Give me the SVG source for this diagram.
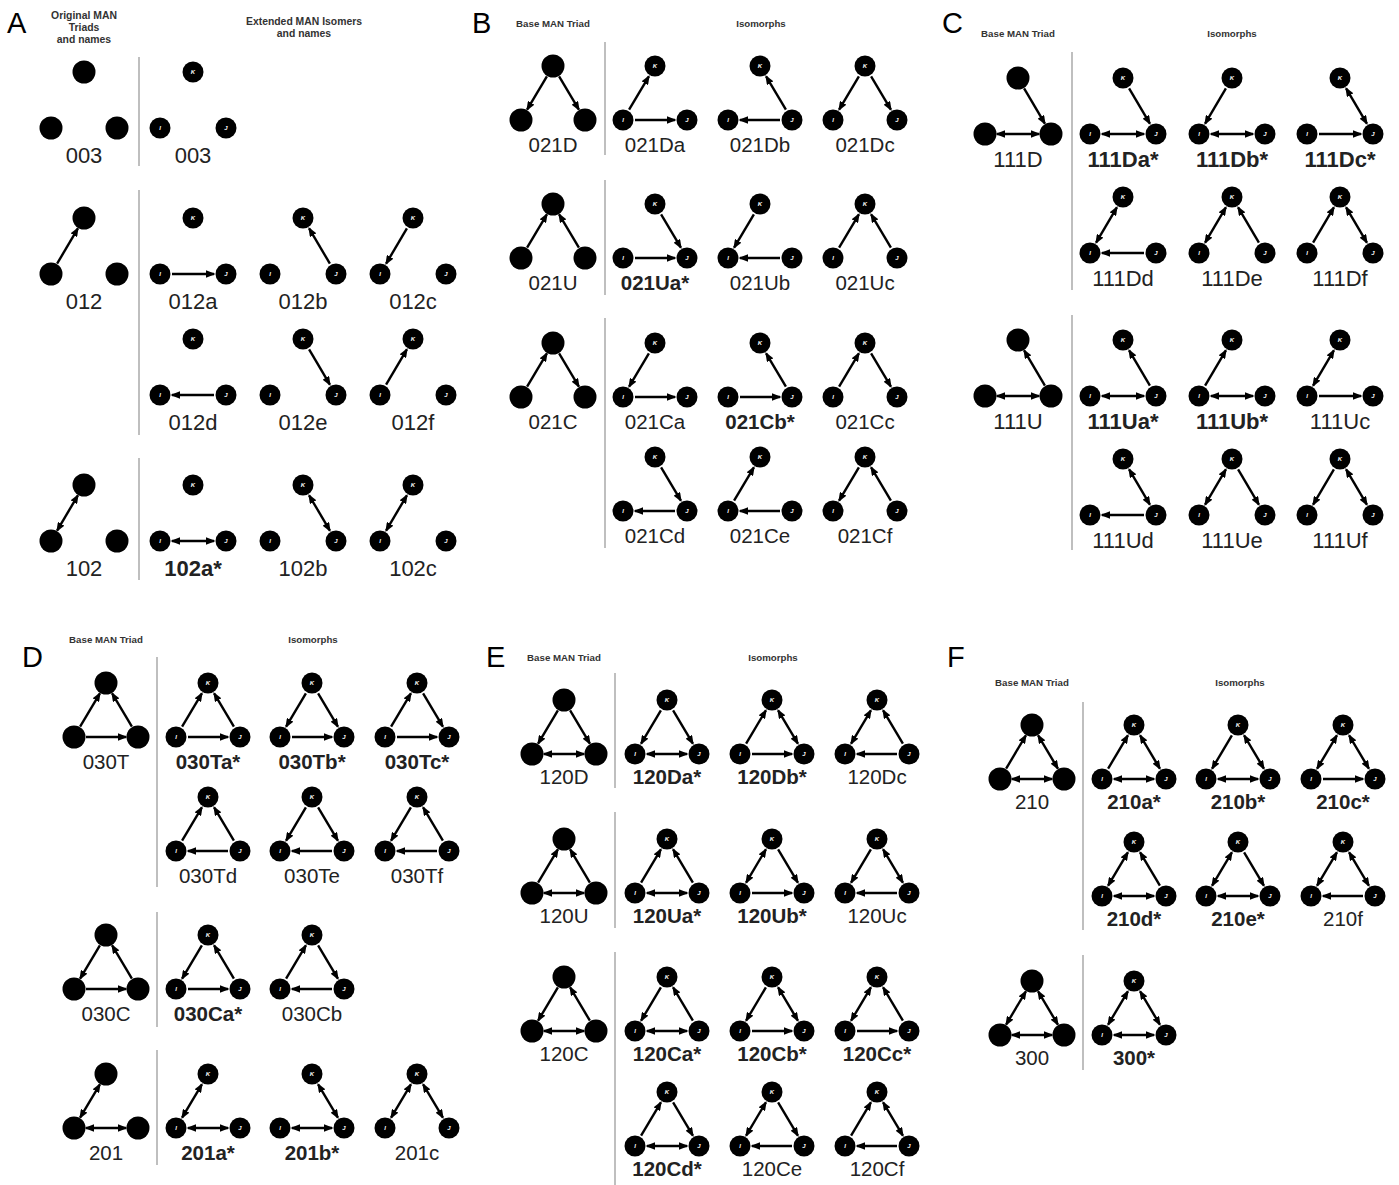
<svg xmlns="http://www.w3.org/2000/svg" xmlns:xlink="http://www.w3.org/1999/xlink" width="1399" height="1185" viewBox="0 0 1399 1185">
<style>
.ln{stroke:#000;stroke-width:2.4;fill:none}
.f{marker-end:url(#ah)}
.b{marker-start:url(#ah)}
.m{marker-start:url(#ah);marker-end:url(#ah)}
.lt{fill:#fff;font-family:"Liberation Sans",Arial,sans-serif;font-style:italic;font-weight:bold;font-size:6px;text-anchor:middle}
.lb{font-family:"Liberation Sans",Arial,sans-serif;text-anchor:middle;fill:#222}
.s1{font-size:22px}
.s2{font-size:20.5px}
.bd{font-weight:bold}
.hd{font-family:"Liberation Sans",Arial,sans-serif;font-weight:bold;font-size:9.7px;fill:#333;text-anchor:middle}
.ha{font-size:10.4px}
.pl{font-family:"Liberation Sans",Arial,sans-serif;font-size:29px;fill:#000}
.sep{stroke:#aaa;stroke-width:1.5}
</style>
<defs>
<marker id="ah" viewBox="0 0 10 8" refX="8.5" refY="4" markerWidth="9.5" markerHeight="7.6" markerUnits="userSpaceOnUse" orient="auto-start-reverse"><path d="M0,0L10,4L0,8z" fill="#000"/></marker>
<g id="iso1"><circle r="10.5"/><circle cx="-33" cy="56" r="10.5"/><circle cx="33" cy="56" r="10.5"/><text class="lt" y="2">K</text><text class="lt" x="-33" y="58">I</text><text class="lt" x="33" y="58">J</text></g>
<g id="iso2"><circle r="10.5"/><circle cx="-32" cy="54" r="10.5"/><circle cx="32" cy="54" r="10.5"/><text class="lt" y="2">K</text><text class="lt" x="-32" y="56">I</text><text class="lt" x="32" y="56">J</text></g>
<g id="org1"><circle r="11.5"/><circle cx="-33" cy="56" r="11.5"/><circle cx="33" cy="56" r="11.5"/></g>
<g id="org2"><circle r="11.5"/><circle cx="-32" cy="54" r="11.5"/><circle cx="32" cy="54" r="11.5"/></g>
</defs>
<rect width="1399" height="1185" fill="#fff"/>

<g id="panel-labels">
<text class="pl" x="7" y="33">A</text>
<text class="pl" x="472" y="33">B</text>
<text class="pl" x="942" y="33">C</text>
<text class="pl" x="22" y="667">D</text>
<text class="pl" x="486" y="667">E</text>
<text class="pl" x="947" y="667">F</text>
</g>

<g id="headers">
<text class="hd ha" x="84" y="19">Original MAN</text>
<text class="hd ha" x="84" y="31">Triads</text>
<text class="hd ha" x="84" y="43">and names</text>
<text class="hd ha" x="304" y="25">Extended MAN Isomers</text>
<text class="hd ha" x="304" y="37">and names</text>
<text class="hd" x="553" y="27">Base MAN Triad</text>
<text class="hd" x="761" y="27">Isomorphs</text>
<text class="hd" x="1018" y="37">Base MAN Triad</text>
<text class="hd" x="1232" y="37">Isomorphs</text>
<text class="hd" x="106" y="643">Base MAN Triad</text>
<text class="hd" x="313" y="643">Isomorphs</text>
<text class="hd" x="564" y="661">Base MAN Triad</text>
<text class="hd" x="773" y="661">Isomorphs</text>
<text class="hd" x="1032" y="686">Base MAN Triad</text>
<text class="hd" x="1240" y="686">Isomorphs</text>
</g>

<g id="separators">
<line class="sep" x1="139" y1="57" x2="139" y2="166"/>
<line class="sep" x1="139" y1="190" x2="139" y2="435"/>
<line class="sep" x1="139" y1="458" x2="139" y2="580"/>
<line class="sep" x1="605" y1="42" x2="605" y2="155"/>
<line class="sep" x1="605" y1="180" x2="605" y2="295"/>
<line class="sep" x1="605" y1="318" x2="605" y2="548"/>
<line class="sep" x1="1072" y1="52" x2="1072" y2="290"/>
<line class="sep" x1="1072" y1="315" x2="1072" y2="550"/>
<line class="sep" x1="157" y1="657" x2="157" y2="887"/>
<line class="sep" x1="157" y1="912" x2="157" y2="1027"/>
<line class="sep" x1="157" y1="1050" x2="157" y2="1165"/>
<line class="sep" x1="615" y1="673" x2="615" y2="788"/>
<line class="sep" x1="615" y1="812" x2="615" y2="928"/>
<line class="sep" x1="615" y1="952" x2="615" y2="1185"/>
<line class="sep" x1="1083" y1="702" x2="1083" y2="930"/>
<line class="sep" x1="1083" y1="955" x2="1083" y2="1070"/>
</g>

<g id="connectors">
<!-- Panel A -->
<g transform="translate(84,218)"><line class="ln f" x1="-26.9" y1="45.7" x2="-6.1" y2="10.3"/></g>
<g transform="translate(193,218)"><line class="ln f" x1="-21" y1="56" x2="21" y2="56"/></g>
<g transform="translate(303,218)"><line class="ln f" x1="26.9" y1="45.7" x2="6.1" y2="10.3"/></g>
<g transform="translate(413,218)"><line class="ln b" x1="-26.9" y1="45.7" x2="-6.1" y2="10.3"/></g>
<g transform="translate(193,339)"><line class="ln b" x1="-21" y1="56" x2="21" y2="56"/></g>
<g transform="translate(303,339)"><line class="ln b" x1="26.9" y1="45.7" x2="6.1" y2="10.3"/></g>
<g transform="translate(413,339)"><line class="ln f" x1="-26.9" y1="45.7" x2="-6.1" y2="10.3"/></g>
<g transform="translate(84,485)"><line class="ln m" x1="-26.9" y1="45.7" x2="-6.1" y2="10.3"/></g>
<g transform="translate(193,485)"><line class="ln m" x1="-21" y1="56" x2="21" y2="56"/></g>
<g transform="translate(303,485)"><line class="ln m" x1="26.9" y1="45.7" x2="6.1" y2="10.3"/></g>
<g transform="translate(413,485)"><line class="ln m" x1="-26.9" y1="45.7" x2="-6.1" y2="10.3"/></g>
<!-- Panel B -->
<g transform="translate(553,66)"><line class="ln b" x1="-25.9" y1="43.7" x2="-6.1" y2="10.3"/><line class="ln b" x1="25.9" y1="43.7" x2="6.1" y2="10.3"/></g>
<g transform="translate(655,66)"><line class="ln f" x1="-25.9" y1="43.7" x2="-6.1" y2="10.3"/><line class="ln f" x1="-20" y1="54" x2="20" y2="54"/></g>
<g transform="translate(760,66)"><line class="ln f" x1="25.9" y1="43.7" x2="6.1" y2="10.3"/><line class="ln b" x1="-20" y1="54" x2="20" y2="54"/></g>
<g transform="translate(865,66)"><line class="ln b" x1="-25.9" y1="43.7" x2="-6.1" y2="10.3"/><line class="ln b" x1="25.9" y1="43.7" x2="6.1" y2="10.3"/></g>
<g transform="translate(553,204)"><line class="ln f" x1="-25.9" y1="43.7" x2="-6.1" y2="10.3"/><line class="ln f" x1="25.9" y1="43.7" x2="6.1" y2="10.3"/></g>
<g transform="translate(655,204)"><line class="ln b" x1="25.9" y1="43.7" x2="6.1" y2="10.3"/><line class="ln f" x1="-20" y1="54" x2="20" y2="54"/></g>
<g transform="translate(760,204)"><line class="ln b" x1="-25.9" y1="43.7" x2="-6.1" y2="10.3"/><line class="ln b" x1="-20" y1="54" x2="20" y2="54"/></g>
<g transform="translate(865,204)"><line class="ln f" x1="-25.9" y1="43.7" x2="-6.1" y2="10.3"/><line class="ln f" x1="25.9" y1="43.7" x2="6.1" y2="10.3"/></g>
<g transform="translate(553,343)"><line class="ln f" x1="-25.9" y1="43.7" x2="-6.1" y2="10.3"/><line class="ln b" x1="25.9" y1="43.7" x2="6.1" y2="10.3"/></g>
<g transform="translate(655,343)"><line class="ln b" x1="-25.9" y1="43.7" x2="-6.1" y2="10.3"/><line class="ln f" x1="-20" y1="54" x2="20" y2="54"/></g>
<g transform="translate(760,343)"><line class="ln f" x1="-20" y1="54" x2="20" y2="54"/><line class="ln f" x1="25.9" y1="43.7" x2="6.1" y2="10.3"/></g>
<g transform="translate(865,343)"><line class="ln f" x1="-25.9" y1="43.7" x2="-6.1" y2="10.3"/><line class="ln b" x1="25.9" y1="43.7" x2="6.1" y2="10.3"/></g>
<g transform="translate(655,457)"><line class="ln b" x1="25.9" y1="43.7" x2="6.1" y2="10.3"/><line class="ln b" x1="-20" y1="54" x2="20" y2="54"/></g>
<g transform="translate(760,457)"><line class="ln b" x1="-20" y1="54" x2="20" y2="54"/><line class="ln f" x1="-25.9" y1="43.7" x2="-6.1" y2="10.3"/></g>
<g transform="translate(865,457)"><line class="ln f" x1="25.9" y1="43.7" x2="6.1" y2="10.3"/><line class="ln b" x1="-25.9" y1="43.7" x2="-6.1" y2="10.3"/></g>
<!-- Panel C -->
<g transform="translate(1018,78)"><line class="ln b" x1="26.9" y1="45.7" x2="6.1" y2="10.3"/><line class="ln m" x1="-21" y1="56" x2="21" y2="56"/></g>
<g transform="translate(1123,78)"><line class="ln b" x1="26.9" y1="45.7" x2="6.1" y2="10.3"/><line class="ln m" x1="-21" y1="56" x2="21" y2="56"/></g>
<g transform="translate(1232,78)"><line class="ln b" x1="-26.9" y1="45.7" x2="-6.1" y2="10.3"/><line class="ln m" x1="-21" y1="56" x2="21" y2="56"/></g>
<g transform="translate(1340,78)"><line class="ln m" x1="26.9" y1="45.7" x2="6.1" y2="10.3"/><line class="ln f" x1="-21" y1="56" x2="21" y2="56"/></g>
<g transform="translate(1123,197)"><line class="ln m" x1="-26.9" y1="45.7" x2="-6.1" y2="10.3"/><line class="ln b" x1="-21" y1="56" x2="21" y2="56"/></g>
<g transform="translate(1232,197)"><line class="ln m" x1="-26.9" y1="45.7" x2="-6.1" y2="10.3"/><line class="ln f" x1="26.9" y1="45.7" x2="6.1" y2="10.3"/></g>
<g transform="translate(1340,197)"><line class="ln f" x1="-26.9" y1="45.7" x2="-6.1" y2="10.3"/><line class="ln m" x1="26.9" y1="45.7" x2="6.1" y2="10.3"/></g>
<g transform="translate(1018,340)"><line class="ln f" x1="26.9" y1="45.7" x2="6.1" y2="10.3"/><line class="ln m" x1="-21" y1="56" x2="21" y2="56"/></g>
<g transform="translate(1123,340)"><line class="ln f" x1="26.9" y1="45.7" x2="6.1" y2="10.3"/><line class="ln m" x1="-21" y1="56" x2="21" y2="56"/></g>
<g transform="translate(1232,340)"><line class="ln f" x1="-26.9" y1="45.7" x2="-6.1" y2="10.3"/><line class="ln m" x1="-21" y1="56" x2="21" y2="56"/></g>
<g transform="translate(1340,340)"><line class="ln m" x1="-26.9" y1="45.7" x2="-6.1" y2="10.3"/><line class="ln f" x1="-21" y1="56" x2="21" y2="56"/></g>
<g transform="translate(1123,459)"><line class="ln m" x1="26.9" y1="45.7" x2="6.1" y2="10.3"/><line class="ln b" x1="-21" y1="56" x2="21" y2="56"/></g>
<g transform="translate(1232,459)"><line class="ln m" x1="-26.9" y1="45.7" x2="-6.1" y2="10.3"/><line class="ln b" x1="26.9" y1="45.7" x2="6.1" y2="10.3"/></g>
<g transform="translate(1340,459)"><line class="ln b" x1="-26.9" y1="45.7" x2="-6.1" y2="10.3"/><line class="ln m" x1="26.9" y1="45.7" x2="6.1" y2="10.3"/></g>
<!-- Panel D -->
<g transform="translate(106,683)"><line class="ln f" x1="-25.9" y1="43.7" x2="-6.1" y2="10.3"/><line class="ln f" x1="25.9" y1="43.7" x2="6.1" y2="10.3"/><line class="ln f" x1="-20" y1="54" x2="20" y2="54"/></g>
<g transform="translate(208,683)"><line class="ln f" x1="-25.9" y1="43.7" x2="-6.1" y2="10.3"/><line class="ln f" x1="25.9" y1="43.7" x2="6.1" y2="10.3"/><line class="ln f" x1="-20" y1="54" x2="20" y2="54"/></g>
<g transform="translate(312,683)"><line class="ln b" x1="-25.9" y1="43.7" x2="-6.1" y2="10.3"/><line class="ln b" x1="25.9" y1="43.7" x2="6.1" y2="10.3"/><line class="ln f" x1="-20" y1="54" x2="20" y2="54"/></g>
<g transform="translate(417,683)"><line class="ln f" x1="-25.9" y1="43.7" x2="-6.1" y2="10.3"/><line class="ln b" x1="25.9" y1="43.7" x2="6.1" y2="10.3"/><line class="ln f" x1="-20" y1="54" x2="20" y2="54"/></g>
<g transform="translate(208,797)"><line class="ln f" x1="-25.9" y1="43.7" x2="-6.1" y2="10.3"/><line class="ln f" x1="25.9" y1="43.7" x2="6.1" y2="10.3"/><line class="ln b" x1="-20" y1="54" x2="20" y2="54"/></g>
<g transform="translate(312,797)"><line class="ln b" x1="-25.9" y1="43.7" x2="-6.1" y2="10.3"/><line class="ln b" x1="25.9" y1="43.7" x2="6.1" y2="10.3"/><line class="ln b" x1="-20" y1="54" x2="20" y2="54"/></g>
<g transform="translate(417,797)"><line class="ln b" x1="-25.9" y1="43.7" x2="-6.1" y2="10.3"/><line class="ln f" x1="25.9" y1="43.7" x2="6.1" y2="10.3"/><line class="ln b" x1="-20" y1="54" x2="20" y2="54"/></g>
<g transform="translate(106,935)"><line class="ln b" x1="-25.9" y1="43.7" x2="-6.1" y2="10.3"/><line class="ln f" x1="25.9" y1="43.7" x2="6.1" y2="10.3"/><line class="ln f" x1="-20" y1="54" x2="20" y2="54"/></g>
<g transform="translate(208,935)"><line class="ln b" x1="-25.9" y1="43.7" x2="-6.1" y2="10.3"/><line class="ln f" x1="25.9" y1="43.7" x2="6.1" y2="10.3"/><line class="ln f" x1="-20" y1="54" x2="20" y2="54"/></g>
<g transform="translate(312,935)"><line class="ln f" x1="-25.9" y1="43.7" x2="-6.1" y2="10.3"/><line class="ln b" x1="25.9" y1="43.7" x2="6.1" y2="10.3"/><line class="ln b" x1="-20" y1="54" x2="20" y2="54"/></g>
<g transform="translate(106,1074)"><line class="ln m" x1="-25.9" y1="43.7" x2="-6.1" y2="10.3"/><line class="ln m" x1="-20" y1="54" x2="20" y2="54"/></g>
<g transform="translate(208,1074)"><line class="ln m" x1="-25.9" y1="43.7" x2="-6.1" y2="10.3"/><line class="ln m" x1="-20" y1="54" x2="20" y2="54"/></g>
<g transform="translate(312,1074)"><line class="ln m" x1="25.9" y1="43.7" x2="6.1" y2="10.3"/><line class="ln m" x1="-20" y1="54" x2="20" y2="54"/></g>
<g transform="translate(417,1074)"><line class="ln m" x1="-25.9" y1="43.7" x2="-6.1" y2="10.3"/><line class="ln m" x1="25.9" y1="43.7" x2="6.1" y2="10.3"/></g>
<!-- Panel E -->
<g transform="translate(564,700)"><line class="ln b" x1="-25.9" y1="43.7" x2="-6.1" y2="10.3"/><line class="ln b" x1="25.9" y1="43.7" x2="6.1" y2="10.3"/><line class="ln m" x1="-20" y1="54" x2="20" y2="54"/></g>
<g transform="translate(667,700)"><line class="ln b" x1="-25.9" y1="43.7" x2="-6.1" y2="10.3"/><line class="ln b" x1="25.9" y1="43.7" x2="6.1" y2="10.3"/><line class="ln m" x1="-20" y1="54" x2="20" y2="54"/></g>
<g transform="translate(772,700)"><line class="ln f" x1="-25.9" y1="43.7" x2="-6.1" y2="10.3"/><line class="ln m" x1="25.9" y1="43.7" x2="6.1" y2="10.3"/><line class="ln f" x1="-20" y1="54" x2="20" y2="54"/></g>
<g transform="translate(877,700)"><line class="ln m" x1="-25.9" y1="43.7" x2="-6.1" y2="10.3"/><line class="ln f" x1="25.9" y1="43.7" x2="6.1" y2="10.3"/><line class="ln b" x1="-20" y1="54" x2="20" y2="54"/></g>
<g transform="translate(564,839)"><line class="ln f" x1="-25.9" y1="43.7" x2="-6.1" y2="10.3"/><line class="ln f" x1="25.9" y1="43.7" x2="6.1" y2="10.3"/><line class="ln m" x1="-20" y1="54" x2="20" y2="54"/></g>
<g transform="translate(667,839)"><line class="ln f" x1="-25.9" y1="43.7" x2="-6.1" y2="10.3"/><line class="ln f" x1="25.9" y1="43.7" x2="6.1" y2="10.3"/><line class="ln m" x1="-20" y1="54" x2="20" y2="54"/></g>
<g transform="translate(772,839)"><line class="ln m" x1="-25.9" y1="43.7" x2="-6.1" y2="10.3"/><line class="ln b" x1="25.9" y1="43.7" x2="6.1" y2="10.3"/><line class="ln f" x1="-20" y1="54" x2="20" y2="54"/></g>
<g transform="translate(877,839)"><line class="ln b" x1="-25.9" y1="43.7" x2="-6.1" y2="10.3"/><line class="ln m" x1="25.9" y1="43.7" x2="6.1" y2="10.3"/><line class="ln b" x1="-20" y1="54" x2="20" y2="54"/></g>
<g transform="translate(564,977)"><line class="ln b" x1="-25.9" y1="43.7" x2="-6.1" y2="10.3"/><line class="ln f" x1="25.9" y1="43.7" x2="6.1" y2="10.3"/><line class="ln m" x1="-20" y1="54" x2="20" y2="54"/></g>
<g transform="translate(667,977)"><line class="ln b" x1="-25.9" y1="43.7" x2="-6.1" y2="10.3"/><line class="ln f" x1="25.9" y1="43.7" x2="6.1" y2="10.3"/><line class="ln m" x1="-20" y1="54" x2="20" y2="54"/></g>
<g transform="translate(772,977)"><line class="ln b" x1="-25.9" y1="43.7" x2="-6.1" y2="10.3"/><line class="ln m" x1="25.9" y1="43.7" x2="6.1" y2="10.3"/><line class="ln f" x1="-20" y1="54" x2="20" y2="54"/></g>
<g transform="translate(877,977)"><line class="ln m" x1="-25.9" y1="43.7" x2="-6.1" y2="10.3"/><line class="ln f" x1="25.9" y1="43.7" x2="6.1" y2="10.3"/><line class="ln f" x1="-20" y1="54" x2="20" y2="54"/></g>
<g transform="translate(667,1092)"><line class="ln f" x1="-25.9" y1="43.7" x2="-6.1" y2="10.3"/><line class="ln b" x1="25.9" y1="43.7" x2="6.1" y2="10.3"/><line class="ln m" x1="-20" y1="54" x2="20" y2="54"/></g>
<g transform="translate(772,1092)"><line class="ln m" x1="-25.9" y1="43.7" x2="-6.1" y2="10.3"/><line class="ln b" x1="25.9" y1="43.7" x2="6.1" y2="10.3"/><line class="ln b" x1="-20" y1="54" x2="20" y2="54"/></g>
<g transform="translate(877,1092)"><line class="ln f" x1="-25.9" y1="43.7" x2="-6.1" y2="10.3"/><line class="ln m" x1="25.9" y1="43.7" x2="6.1" y2="10.3"/><line class="ln b" x1="-20" y1="54" x2="20" y2="54"/></g>
<!-- Panel F -->
<g transform="translate(1032,725)"><line class="ln f" x1="-25.9" y1="43.7" x2="-6.1" y2="10.3"/><line class="ln m" x1="25.9" y1="43.7" x2="6.1" y2="10.3"/><line class="ln m" x1="-20" y1="54" x2="20" y2="54"/></g>
<g transform="translate(1134,725)"><line class="ln f" x1="-25.9" y1="43.7" x2="-6.1" y2="10.3"/><line class="ln m" x1="25.9" y1="43.7" x2="6.1" y2="10.3"/><line class="ln m" x1="-20" y1="54" x2="20" y2="54"/></g>
<g transform="translate(1238,725)"><line class="ln b" x1="-25.9" y1="43.7" x2="-6.1" y2="10.3"/><line class="ln m" x1="25.9" y1="43.7" x2="6.1" y2="10.3"/><line class="ln m" x1="-20" y1="54" x2="20" y2="54"/></g>
<g transform="translate(1343,725)"><line class="ln m" x1="-25.9" y1="43.7" x2="-6.1" y2="10.3"/><line class="ln m" x1="25.9" y1="43.7" x2="6.1" y2="10.3"/><line class="ln f" x1="-20" y1="54" x2="20" y2="54"/></g>
<g transform="translate(1134,842)"><line class="ln m" x1="-25.9" y1="43.7" x2="-6.1" y2="10.3"/><line class="ln f" x1="25.9" y1="43.7" x2="6.1" y2="10.3"/><line class="ln m" x1="-20" y1="54" x2="20" y2="54"/></g>
<g transform="translate(1238,842)"><line class="ln m" x1="-25.9" y1="43.7" x2="-6.1" y2="10.3"/><line class="ln b" x1="25.9" y1="43.7" x2="6.1" y2="10.3"/><line class="ln m" x1="-20" y1="54" x2="20" y2="54"/></g>
<g transform="translate(1343,842)"><line class="ln m" x1="-25.9" y1="43.7" x2="-6.1" y2="10.3"/><line class="ln m" x1="25.9" y1="43.7" x2="6.1" y2="10.3"/><line class="ln b" x1="-20" y1="54" x2="20" y2="54"/></g>
<g transform="translate(1032,981)"><line class="ln m" x1="-25.9" y1="43.7" x2="-6.1" y2="10.3"/><line class="ln m" x1="25.9" y1="43.7" x2="6.1" y2="10.3"/><line class="ln m" x1="-20" y1="54" x2="20" y2="54"/></g>
<g transform="translate(1134,981)"><line class="ln m" x1="-25.9" y1="43.7" x2="-6.1" y2="10.3"/><line class="ln m" x1="25.9" y1="43.7" x2="6.1" y2="10.3"/><line class="ln m" x1="-20" y1="54" x2="20" y2="54"/></g>
</g>

<g id="nodes">
<!-- Panel A -->
<g id="t-003-orig" transform="translate(84,72)"><use xlink:href="#org1" href="#org1"/><text class="lb s1" y="91">003</text></g>
<g id="t-003" transform="translate(193,72)"><use xlink:href="#iso1" href="#iso1"/><text class="lb s1" y="91">003</text></g>
<g id="t-012-orig" transform="translate(84,218)"><use xlink:href="#org1" href="#org1"/><text class="lb s1" y="91">012</text></g>
<g id="t-012a" transform="translate(193,218)"><use xlink:href="#iso1" href="#iso1"/><text class="lb s1" y="91">012a</text></g>
<g id="t-012b" transform="translate(303,218)"><use xlink:href="#iso1" href="#iso1"/><text class="lb s1" y="91">012b</text></g>
<g id="t-012c" transform="translate(413,218)"><use xlink:href="#iso1" href="#iso1"/><text class="lb s1" y="91">012c</text></g>
<g id="t-012d" transform="translate(193,339)"><use xlink:href="#iso1" href="#iso1"/><text class="lb s1" y="91">012d</text></g>
<g id="t-012e" transform="translate(303,339)"><use xlink:href="#iso1" href="#iso1"/><text class="lb s1" y="91">012e</text></g>
<g id="t-012f" transform="translate(413,339)"><use xlink:href="#iso1" href="#iso1"/><text class="lb s1" y="91">012f</text></g>
<g id="t-102-orig" transform="translate(84,485)"><use xlink:href="#org1" href="#org1"/><text class="lb s1" y="91">102</text></g>
<g id="t-102a" transform="translate(193,485)"><use xlink:href="#iso1" href="#iso1"/><text class="lb s1 bd" y="91">102a*</text></g>
<g id="t-102b" transform="translate(303,485)"><use xlink:href="#iso1" href="#iso1"/><text class="lb s1" y="91">102b</text></g>
<g id="t-102c" transform="translate(413,485)"><use xlink:href="#iso1" href="#iso1"/><text class="lb s1" y="91">102c</text></g>
<!-- Panel B -->
<g id="t-021D-orig" transform="translate(553,66)"><use xlink:href="#org2" href="#org2"/><text class="lb s2" y="86">021D</text></g>
<g id="t-021Da" transform="translate(655,66)"><use xlink:href="#iso2" href="#iso2"/><text class="lb s2" y="86">021Da</text></g>
<g id="t-021Db" transform="translate(760,66)"><use xlink:href="#iso2" href="#iso2"/><text class="lb s2" y="86">021Db</text></g>
<g id="t-021Dc" transform="translate(865,66)"><use xlink:href="#iso2" href="#iso2"/><text class="lb s2" y="86">021Dc</text></g>
<g id="t-021U-orig" transform="translate(553,204)"><use xlink:href="#org2" href="#org2"/><text class="lb s2" y="86">021U</text></g>
<g id="t-021Ua" transform="translate(655,204)"><use xlink:href="#iso2" href="#iso2"/><text class="lb s2 bd" y="86">021Ua*</text></g>
<g id="t-021Ub" transform="translate(760,204)"><use xlink:href="#iso2" href="#iso2"/><text class="lb s2" y="86">021Ub</text></g>
<g id="t-021Uc" transform="translate(865,204)"><use xlink:href="#iso2" href="#iso2"/><text class="lb s2" y="86">021Uc</text></g>
<g id="t-021C-orig" transform="translate(553,343)"><use xlink:href="#org2" href="#org2"/><text class="lb s2" y="86">021C</text></g>
<g id="t-021Ca" transform="translate(655,343)"><use xlink:href="#iso2" href="#iso2"/><text class="lb s2" y="86">021Ca</text></g>
<g id="t-021Cb" transform="translate(760,343)"><use xlink:href="#iso2" href="#iso2"/><text class="lb s2 bd" y="86">021Cb*</text></g>
<g id="t-021Cc" transform="translate(865,343)"><use xlink:href="#iso2" href="#iso2"/><text class="lb s2" y="86">021Cc</text></g>
<g id="t-021Cd" transform="translate(655,457)"><use xlink:href="#iso2" href="#iso2"/><text class="lb s2" y="86">021Cd</text></g>
<g id="t-021Ce" transform="translate(760,457)"><use xlink:href="#iso2" href="#iso2"/><text class="lb s2" y="86">021Ce</text></g>
<g id="t-021Cf" transform="translate(865,457)"><use xlink:href="#iso2" href="#iso2"/><text class="lb s2" y="86">021Cf</text></g>
<!-- Panel C -->
<g id="t-111D-orig" transform="translate(1018,78)"><use xlink:href="#org1" href="#org1"/><text class="lb s1" y="89">111D</text></g>
<g id="t-111Da" transform="translate(1123,78)"><use xlink:href="#iso1" href="#iso1"/><text class="lb s1 bd" y="89">111Da*</text></g>
<g id="t-111Db" transform="translate(1232,78)"><use xlink:href="#iso1" href="#iso1"/><text class="lb s1 bd" y="89">111Db*</text></g>
<g id="t-111Dc" transform="translate(1340,78)"><use xlink:href="#iso1" href="#iso1"/><text class="lb s1 bd" y="89">111Dc*</text></g>
<g id="t-111Dd" transform="translate(1123,197)"><use xlink:href="#iso1" href="#iso1"/><text class="lb s1" y="89">111Dd</text></g>
<g id="t-111De" transform="translate(1232,197)"><use xlink:href="#iso1" href="#iso1"/><text class="lb s1" y="89">111De</text></g>
<g id="t-111Df" transform="translate(1340,197)"><use xlink:href="#iso1" href="#iso1"/><text class="lb s1" y="89">111Df</text></g>
<g id="t-111U-orig" transform="translate(1018,340)"><use xlink:href="#org1" href="#org1"/><text class="lb s1" y="89">111U</text></g>
<g id="t-111Ua" transform="translate(1123,340)"><use xlink:href="#iso1" href="#iso1"/><text class="lb s1 bd" y="89">111Ua*</text></g>
<g id="t-111Ub" transform="translate(1232,340)"><use xlink:href="#iso1" href="#iso1"/><text class="lb s1 bd" y="89">111Ub*</text></g>
<g id="t-111Uc" transform="translate(1340,340)"><use xlink:href="#iso1" href="#iso1"/><text class="lb s1" y="89">111Uc</text></g>
<g id="t-111Ud" transform="translate(1123,459)"><use xlink:href="#iso1" href="#iso1"/><text class="lb s1" y="89">111Ud</text></g>
<g id="t-111Ue" transform="translate(1232,459)"><use xlink:href="#iso1" href="#iso1"/><text class="lb s1" y="89">111Ue</text></g>
<g id="t-111Uf" transform="translate(1340,459)"><use xlink:href="#iso1" href="#iso1"/><text class="lb s1" y="89">111Uf</text></g>
<!-- Panel D -->
<g id="t-030T-orig" transform="translate(106,683)"><use xlink:href="#org2" href="#org2"/><text class="lb s2" y="86">030T</text></g>
<g id="t-030Ta" transform="translate(208,683)"><use xlink:href="#iso2" href="#iso2"/><text class="lb s2 bd" y="86">030Ta*</text></g>
<g id="t-030Tb" transform="translate(312,683)"><use xlink:href="#iso2" href="#iso2"/><text class="lb s2 bd" y="86">030Tb*</text></g>
<g id="t-030Tc" transform="translate(417,683)"><use xlink:href="#iso2" href="#iso2"/><text class="lb s2 bd" y="86">030Tc*</text></g>
<g id="t-030Td" transform="translate(208,797)"><use xlink:href="#iso2" href="#iso2"/><text class="lb s2" y="86">030Td</text></g>
<g id="t-030Te" transform="translate(312,797)"><use xlink:href="#iso2" href="#iso2"/><text class="lb s2" y="86">030Te</text></g>
<g id="t-030Tf" transform="translate(417,797)"><use xlink:href="#iso2" href="#iso2"/><text class="lb s2" y="86">030Tf</text></g>
<g id="t-030C-orig" transform="translate(106,935)"><use xlink:href="#org2" href="#org2"/><text class="lb s2" y="86">030C</text></g>
<g id="t-030Ca" transform="translate(208,935)"><use xlink:href="#iso2" href="#iso2"/><text class="lb s2 bd" y="86">030Ca*</text></g>
<g id="t-030Cb" transform="translate(312,935)"><use xlink:href="#iso2" href="#iso2"/><text class="lb s2" y="86">030Cb</text></g>
<g id="t-201-orig" transform="translate(106,1074)"><use xlink:href="#org2" href="#org2"/><text class="lb s2" y="86">201</text></g>
<g id="t-201a" transform="translate(208,1074)"><use xlink:href="#iso2" href="#iso2"/><text class="lb s2 bd" y="86">201a*</text></g>
<g id="t-201b" transform="translate(312,1074)"><use xlink:href="#iso2" href="#iso2"/><text class="lb s2 bd" y="86">201b*</text></g>
<g id="t-201c" transform="translate(417,1074)"><use xlink:href="#iso2" href="#iso2"/><text class="lb s2" y="86">201c</text></g>
<!-- Panel E -->
<g id="t-120D-orig" transform="translate(564,700)"><use xlink:href="#org2" href="#org2"/><text class="lb s2" y="84">120D</text></g>
<g id="t-120Da" transform="translate(667,700)"><use xlink:href="#iso2" href="#iso2"/><text class="lb s2 bd" y="84">120Da*</text></g>
<g id="t-120Db" transform="translate(772,700)"><use xlink:href="#iso2" href="#iso2"/><text class="lb s2 bd" y="84">120Db*</text></g>
<g id="t-120Dc" transform="translate(877,700)"><use xlink:href="#iso2" href="#iso2"/><text class="lb s2" y="84">120Dc</text></g>
<g id="t-120U-orig" transform="translate(564,839)"><use xlink:href="#org2" href="#org2"/><text class="lb s2" y="84">120U</text></g>
<g id="t-120Ua" transform="translate(667,839)"><use xlink:href="#iso2" href="#iso2"/><text class="lb s2 bd" y="84">120Ua*</text></g>
<g id="t-120Ub" transform="translate(772,839)"><use xlink:href="#iso2" href="#iso2"/><text class="lb s2 bd" y="84">120Ub*</text></g>
<g id="t-120Uc" transform="translate(877,839)"><use xlink:href="#iso2" href="#iso2"/><text class="lb s2" y="84">120Uc</text></g>
<g id="t-120C-orig" transform="translate(564,977)"><use xlink:href="#org2" href="#org2"/><text class="lb s2" y="84">120C</text></g>
<g id="t-120Ca" transform="translate(667,977)"><use xlink:href="#iso2" href="#iso2"/><text class="lb s2 bd" y="84">120Ca*</text></g>
<g id="t-120Cb" transform="translate(772,977)"><use xlink:href="#iso2" href="#iso2"/><text class="lb s2 bd" y="84">120Cb*</text></g>
<g id="t-120Cc" transform="translate(877,977)"><use xlink:href="#iso2" href="#iso2"/><text class="lb s2 bd" y="84">120Cc*</text></g>
<g id="t-120Cd" transform="translate(667,1092)"><use xlink:href="#iso2" href="#iso2"/><text class="lb s2 bd" y="84">120Cd*</text></g>
<g id="t-120Ce" transform="translate(772,1092)"><use xlink:href="#iso2" href="#iso2"/><text class="lb s2" y="84">120Ce</text></g>
<g id="t-120Cf" transform="translate(877,1092)"><use xlink:href="#iso2" href="#iso2"/><text class="lb s2" y="84">120Cf</text></g>
<!-- Panel F -->
<g id="t-210-orig" transform="translate(1032,725)"><use xlink:href="#org2" href="#org2"/><text class="lb s2" y="84">210</text></g>
<g id="t-210a" transform="translate(1134,725)"><use xlink:href="#iso2" href="#iso2"/><text class="lb s2 bd" y="84">210a*</text></g>
<g id="t-210b" transform="translate(1238,725)"><use xlink:href="#iso2" href="#iso2"/><text class="lb s2 bd" y="84">210b*</text></g>
<g id="t-210c" transform="translate(1343,725)"><use xlink:href="#iso2" href="#iso2"/><text class="lb s2 bd" y="84">210c*</text></g>
<g id="t-210d" transform="translate(1134,842)"><use xlink:href="#iso2" href="#iso2"/><text class="lb s2 bd" y="84">210d*</text></g>
<g id="t-210e" transform="translate(1238,842)"><use xlink:href="#iso2" href="#iso2"/><text class="lb s2 bd" y="84">210e*</text></g>
<g id="t-210f" transform="translate(1343,842)"><use xlink:href="#iso2" href="#iso2"/><text class="lb s2" y="84">210f</text></g>
<g id="t-300-orig" transform="translate(1032,981)"><use xlink:href="#org2" href="#org2"/><text class="lb s2" y="84">300</text></g>
<g id="t-300" transform="translate(1134,981)"><use xlink:href="#iso2" href="#iso2"/><text class="lb s2 bd" y="84">300*</text></g>
</g>
</svg>
